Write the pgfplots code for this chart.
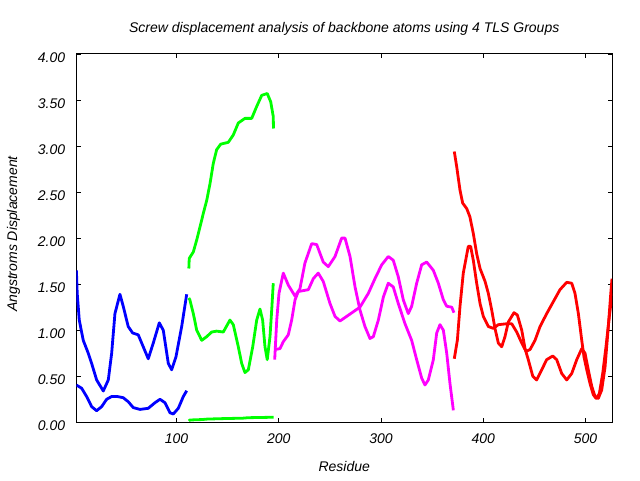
\documentclass[border=0pt]{standalone}
\usepackage{fontspec}
\setmainfont{Liberation Sans}
\usepackage{pgfplots}
\pgfplotsset{compat=1.18}

\definecolor{grpblue}{RGB}{0,0,255}
\definecolor{grpgreen}{RGB}{0,255,0}
\definecolor{grpmag}{RGB}{255,0,255}
\definecolor{grpred}{RGB}{255,0,0}

\newcommand{\lbl}{\fontsize{14}{16}\selectfont\itshape}

\begin{document}
\begin{tikzpicture}
\path[use as bounding box] (0,0) rectangle (640pt,480pt);
\begin{axis}[
    at={(76.4pt,57.7pt)}, anchor=south west,
    scale only axis, width=535.6pt, height=368.4pt,
    xmin=2, xmax=526, ymin=0, ymax=4,
    xtick={100,200,300,400,500},
    ytick={0,0.5,1,1.5,2,2.5,3,3.5,4},
    scaled y ticks=false,
    tick align=inside,
    major tick length=4.5pt,
    axis line style={line width=1pt},
    every tick/.style={black, line width=0.8pt},
    /pgf/number format/assume math mode=true,
    yticklabel style={font=\lbl, xshift=-7.7pt, yshift=-3.5pt,
        /pgf/number format/.cd, fixed, fixed zerofill, precision=2},
    xticklabel style={font=\lbl, yshift=-8pt},
    every axis title shift=0pt,
    title={Screw displacement analysis of backbone atoms using 4 TLS Groups},
    title style={font=\lbl, at={(axis description cs:0.5,1.0586)}, anchor=base},
    xlabel={Residue},
    xlabel style={font=\lbl, at={(axis description cs:0.5,-0.134)}, anchor=base},
    ylabel={Angstroms Displacement},
    ylabel style={font=\lbl, at={(axis description cs:-0.1109,0.511)}, anchor=base},
    every axis plot/.append style={line width=2.8pt, line join=round},
]
% group 1
\addplot[grpblue] coordinates {
(2,1.65) (2.8,1.40) (4.8,1.11) (8.7,0.89) (13.6,0.75) (16.9,0.64) (21.8,0.46)
(28.3,0.34) (33.2,0.46) (36.5,0.75) (39.7,1.18) (44.6,1.39) (47.8,1.26)
(52.7,1.04) (57,0.97) (62.5,0.95) (67.4,0.82) (72.3,0.69) (77.2,0.86)
(83.1,1.08) (87,1.00) (91.9,0.64) (95.2,0.57) (99.4,0.71) (105,1.04) (109.9,1.39)
};
\addplot[grpblue] coordinates {
(2,0.405) (7.1,0.37) (12,0.28) (16.9,0.17) (21.8,0.126) (26.7,0.17) (31.6,0.25)
(36.5,0.28) (42,0.28) (47.8,0.267) (52.7,0.224) (57.6,0.16) (64.2,0.14)
(72.3,0.152) (78.9,0.213) (83.8,0.25) (88.6,0.213) (93.5,0.104) (96.8,0.09)
(101.7,0.152) (106.6,0.28) (109.9,0.343)
};
% group 2
\addplot[grpgreen] coordinates {
(112,1.67) (112.4,1.78) (116.4,1.85) (119.7,1.98) (122.9,2.12) (126.2,2.27)
(129.5,2.41) (132.7,2.59) (135.9,2.81) (139.2,2.96) (143.2,3.02) (150.6,3.04)
(155.5,3.12) (160.4,3.25) (166.9,3.30) (173.5,3.30) (178.4,3.43) (183.3,3.55)
(188.7,3.57) (192.1,3.48) (194.6,3.32) (194.8,3.19)
};
\addplot[grpgreen] coordinates {
(112,1.35) (113,1.33) (116.4,1.18) (119.7,1.00) (124.6,0.89) (129.5,0.93)
(134.3,0.98) (139.2,0.99) (145.7,0.98) (152.2,1.11) (155.5,1.06) (160.4,0.82)
(163.7,0.64) (166.9,0.54) (170.2,0.57) (174.5,0.82) (178.4,1.11) (181.6,1.23)
(184.2,1.11) (186.5,0.82) (188.7,0.68) (191.4,0.93) (193.3,1.26) (194.6,1.51)
};
\addplot[grpgreen] coordinates {
(112,0.015) (113,0.025) (125,0.03) (130,0.035) (145,0.04) (165,0.045)
(170,0.05) (195,0.055)
};
% group 3
\addplot[grpmag] coordinates {
(196,0.79) (201.2,0.80) (204.4,0.875) (209.3,0.95) (212.6,1.11) (215.9,1.33)
(219.1,1.42) (228.9,1.44) (233.8,1.56) (238.6,1.62) (243.5,1.53) (250.1,1.29)
(255,1.15) (259.9,1.10) (266.4,1.15) (272.9,1.20) (279.4,1.25) (287.6,1.40)
(294.1,1.56) (300.7,1.71) (307.1,1.80) (312,1.76) (316.9,1.58) (321.8,1.33)
(326.7,1.18) (330,1.26) (334.9,1.51) (339.8,1.71) (344.7,1.74) (351.2,1.65)
(356.1,1.51) (361,1.33) (364.3,1.26) (369.2,1.25) (371.4,1.19)
};
\addplot[grpmag] coordinates {
(196,0.68) (198,1.11) (200.2,1.40) (204.4,1.62) (209.3,1.49) (215.9,1.37)
(220.7,1.45) (225.6,1.73) (232.2,1.94) (237.1,1.93) (243.5,1.74) (248.4,1.69)
(255,1.80) (261.5,2.00) (264.8,2.00) (269.7,1.80) (274.6,1.47) (279.4,1.22)
(284.3,1.04) (289.2,0.91) (292.5,0.93) (297.4,1.11) (302.3,1.36) (307.1,1.51)
(312,1.47) (316.9,1.29) (323.5,1.07) (330,0.89) (334.9,0.68) (339.8,0.48)
(343,0.405) (346.3,0.46) (351.2,0.68) (354.5,0.97) (357.7,1.06) (361,1.00)
(364.3,0.75) (367.5,0.42) (370.8,0.13)
};
% group 4
\addplot[grpred] coordinates {
(371.7,2.94) (374,2.78) (377.3,2.52) (379.9,2.38) (383.9,2.32) (387,2.23)
(390.3,2.05) (393.6,1.83) (396.9,1.67) (401.8,1.53) (405,1.40) (408.3,1.22)
(411.5,1.02) (414.8,0.86) (418.1,0.82) (421.3,0.93) (424.6,1.09) (430.1,1.19)
(433.4,1.165) (437.7,1.00) (440.9,0.80) (444.1,0.68) (448.5,0.50) (452.3,0.46)
(457.2,0.57) (462.1,0.68) (468,0.72) (471.9,0.68) (476.8,0.53) (481.7,0.46)
(486.6,0.53) (491.5,0.68) (496.4,0.80) (499.6,0.75) (502.8,0.57) (506.2,0.39)
(509.4,0.28) (512.6,0.26) (515.9,0.35) (519.2,0.60) (522.4,1.04) (524.8,1.40)
(526,1.56)
};
\addplot[grpred] coordinates {
(371.7,0.69) (374.7,0.89) (377.3,1.26) (380.5,1.62) (385.4,1.91) (387.7,1.91)
(390.3,1.76) (393.6,1.51) (396.9,1.29) (400.1,1.15) (405,1.04) (409.9,1.02)
(414.8,1.06) (423,1.07) (427.9,1.07) (432.8,0.98) (437.7,0.86) (441.9,0.77)
(445.8,0.79) (450.7,0.89) (455.6,1.04) (462.1,1.18) (468.6,1.31) (475.1,1.44)
(481.7,1.52) (486.6,1.51) (489.8,1.40) (493.1,1.18) (496.4,0.89) (498.6,0.71)
(501.3,0.57) (504.5,0.42) (507.7,0.30) (510.4,0.26) (513.6,0.31) (516.9,0.53)
(520.1,0.82) (523.4,1.15) (525.7,1.36) (526,1.40)
};
\end{axis}
\end{tikzpicture}
\end{document}
